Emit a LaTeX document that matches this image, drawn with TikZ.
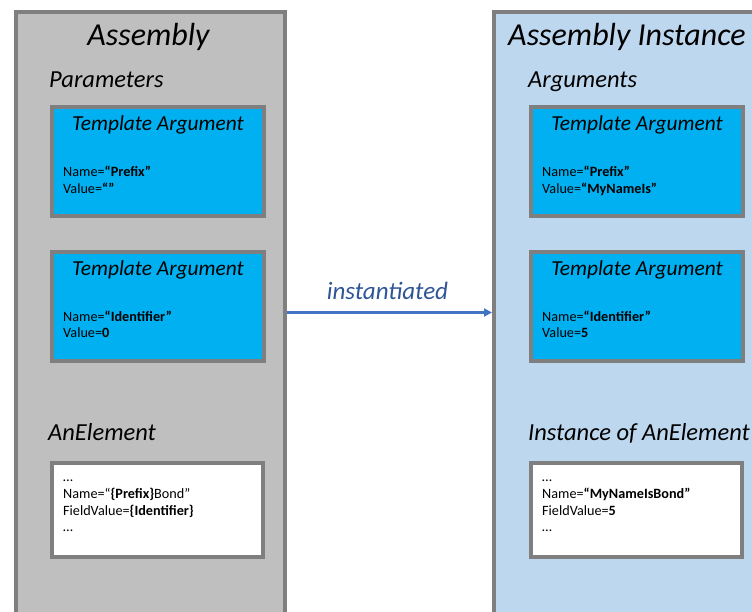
\documentclass[tikz,border=0pt]{standalone}
\usepackage{fontspec}
\setmainfont{Carlito}
\usetikzlibrary{arrows.meta,calc}
\definecolor{panelgray}{HTML}{BFBFBF}
\definecolor{panelblue}{HTML}{BDD7EE}
\definecolor{edgegray}{HTML}{7F7F7F}
\definecolor{argblue}{HTML}{00B0F0}
\definecolor{linkblue}{HTML}{4472C4}
\definecolor{labelblue}{HTML}{2F5597}
\tikzset{
  panel/.style={draw=edgegray, line width=4pt, anchor=north west, inner sep=0pt,
    minimum width=269pt, minimum height=700pt},
  argbox/.style={draw=edgegray, line width=4pt, fill=argblue, anchor=north west,
    inner sep=0pt, minimum width=212pt, minimum height=109pt},
  elembox/.style={draw=edgegray, line width=4pt, fill=white, anchor=north west,
    inner sep=0pt, minimum width=211pt, minimum height=94pt},
  paneltitle/.style={anchor=base, inner sep=0pt, font=\fontsize{32}{38}\selectfont\itshape},
  section/.style={anchor=base west, inner sep=0pt, font=\fontsize{24.5}{29}\selectfont\itshape},
  boxtitle/.style={anchor=base, inner sep=0pt, font=\fontsize{21.4}{25}\selectfont\itshape},
  % multi-line fields: the base anchor sits on the last line
  field/.style={anchor=base west, inner sep=0pt, align=left,
    font=\fontsize{14.2}{16.7}\selectfont},
  link/.style={draw=linkblue, line width=2.5pt, -{Triangle[length=8pt,width=8pt]}},
  linklabel/.style={anchor=base, inner sep=0pt, text=labelblue,
    font=\fontsize{25}{30}\selectfont\itshape},
}
\begin{document}
\begin{tikzpicture}[x=1pt, y=-1pt]
\useasboundingbox (0,0) rectangle (752,612);
\clip (0,0) rectangle (752,612);

% the two panels
\node[panel, fill=panelgray] (asm) at (14,10) {};
\node[panel, fill=panelblue] (inst) at (492,10) {};

% template side
\node[paneltitle] (asmtitle) at (148.5,45.7) {Assembly};
\node[section] (params) at (49,87.3) {Parameters};
\node[argbox] (ta1) at (50,105) {};
\node[boxtitle] (ta1title) at ($(ta1.north)+(0,26)$) {Template Argument};
\node[field] (ta1text) at ($(ta1.north west)+(13,88.4)$)
  {Name=\textbf{“Prefix”}\\Value=\textbf{“”}};
\node[argbox] (ta2) at (50,250) {};
\node[boxtitle] (ta2title) at ($(ta2.north)+(0,26)$) {Template Argument};
\node[field] (ta2text) at ($(ta2.north west)+(13,87.7)$)
  {Name=\textbf{“Identifier”}\\Value=\textbf{0}};
\node[section] (elem) at (48,440) {AnElement};
\node[elembox] (el) at (50,461) {};
\node[field] (eltext) at ($(el.north west)+(13,70.8)$)
  {…\\Name=“\textbf{\{Prefix\}}Bond”\\FieldValue=\textbf{\{Identifier\}}\\…};

% instance side
\node[paneltitle] (insttitle) at (627,45.7) {Assembly Instance};
\node[section] (args) at (528,87.3) {Arguments};
\node[argbox] (tb1) at (529,105) {};
\node[boxtitle] (tb1title) at ($(tb1.north)+(0,26)$) {Template Argument};
\node[field] (tb1text) at ($(tb1.north west)+(13,88.4)$)
  {Name=\textbf{“Prefix”}\\Value=\textbf{“MyNameIs”}};
\node[argbox] (tb2) at (529,250) {};
\node[boxtitle] (tb2title) at ($(tb2.north)+(0,26)$) {Template Argument};
\node[field] (tb2text) at ($(tb2.north west)+(13,87.7)$)
  {Name=\textbf{“Identifier”}\\Value=\textbf{5}};
\node[section] (ielem) at (528,440) {Instance of AnElement};
\node[elembox] (iel) at (529,461) {};
\node[field] (ieltext) at ($(iel.north west)+(13,70.8)$)
  {…\\Name=\textbf{“MyNameIsBond”}\\FieldValue=\textbf{5}\\…};

% instantiation arrow
\coordinate (arrowrow) at (0,312.5);
\draw[link] (asm.east |- arrowrow) -- (inst.west |- arrowrow);
\node[linklabel] (instlabel) at (387.5,299.3) {instantiated};
\end{tikzpicture}
\end{document}
